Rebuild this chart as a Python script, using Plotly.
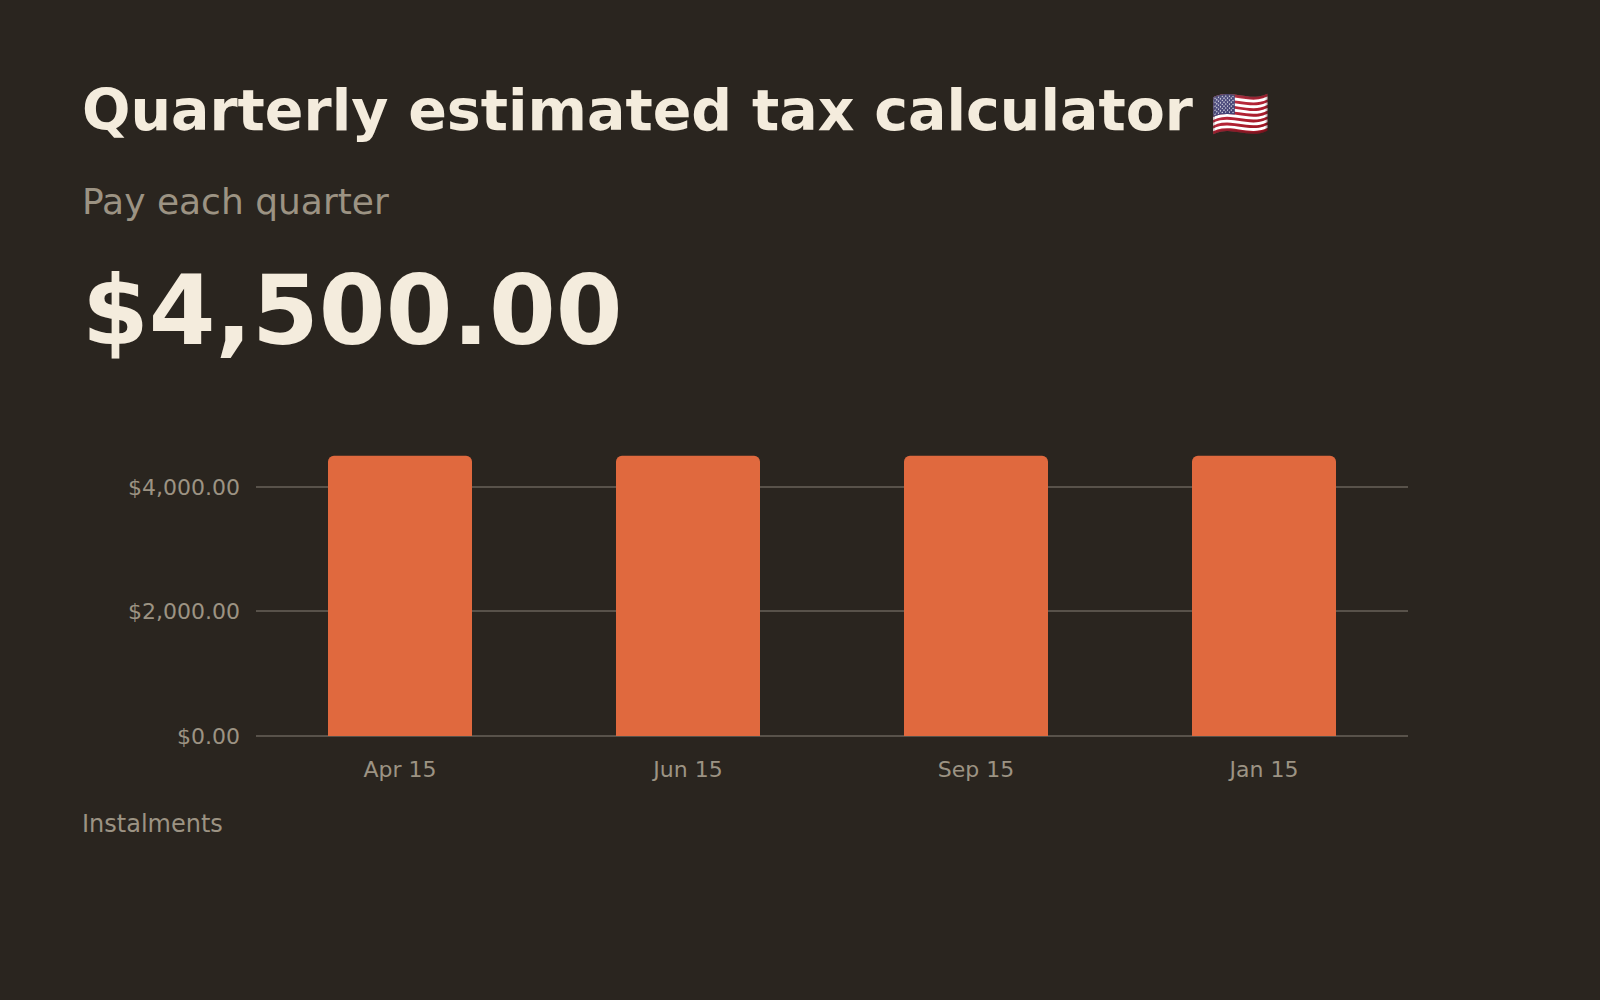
import plotly.graph_objects as go

# Data
instalments = ["Apr 15", "Jun 15", "Sep 15", "Jan 15"]
amounts = [4500, 4500, 4500, 4500]
headline = "$4,500.00"
y_ticks = [0, 2000, 4000]

BG = "#2a251f"
CREAM = "#f4ecdd"
MUTED = "#9c9383"
BAR = "#e0693e"
GRID = "#58524a"

fig = go.Figure()
fig.add_trace(go.Bar(
    x=instalments,
    y=amounts,
    width=0.5,
    marker=dict(color=BAR, line=dict(width=0), cornerradius=6),
    hoverinfo="skip",
))

fig.update_layout(
    width=1600,
    height=1000,
    paper_bgcolor=BG,
    plot_bgcolor=BG,
    showlegend=False,
    font=dict(family="DejaVu Sans", color=MUTED, size=22),
    margin=dict(l=256, r=192, t=441, b=264),
    xaxis=dict(showgrid=False, showline=False, zeroline=False,
               tickfont=dict(size=22, color=MUTED), ticks="",
               ticklabelstandoff=18),
    yaxis=dict(range=[0, 4737], tickvals=y_ticks, tickformat="$,.2f",
               showgrid=True, gridcolor=GRID, gridwidth=2,
               zeroline=True, zerolinecolor=GRID, zerolinewidth=2,
               tickfont=dict(size=22, color=MUTED), ticks="",
               ticklabelstandoff=15),
)

# heading block above the chart
LEFT = -0.1531
fig.add_annotation(text="<b>Quarterly estimated tax calculator</b> "
                        "<span style='font-size:47px'>🇺🇸</span>",
                   xref="paper", yref="paper", x=LEFT, y=2.122,
                   xanchor="left", yanchor="middle", showarrow=False,
                   font=dict(size=57, color=CREAM))
fig.add_annotation(text="Pay each quarter",
                   xref="paper", yref="paper", x=LEFT, y=1.812,
                   xanchor="left", yanchor="middle", showarrow=False,
                   font=dict(size=36, color=MUTED))
fig.add_annotation(text="<b>" + headline + "</b>",
                   xref="paper", yref="paper", x=LEFT, y=1.44,
                   xanchor="left", yanchor="middle", showarrow=False,
                   font=dict(size=96, color=CREAM))
fig.add_annotation(text="Instalments",
                   xref="paper", yref="paper", x=LEFT, y=-0.297,
                   xanchor="left", yanchor="middle", showarrow=False,
                   font=dict(size=24, color=MUTED))

fig.write_html("out.html", config={"displayModeBar": False},
               post_script="document.body.style.margin='0';"
                           "document.body.style.background='#2a251f';")
